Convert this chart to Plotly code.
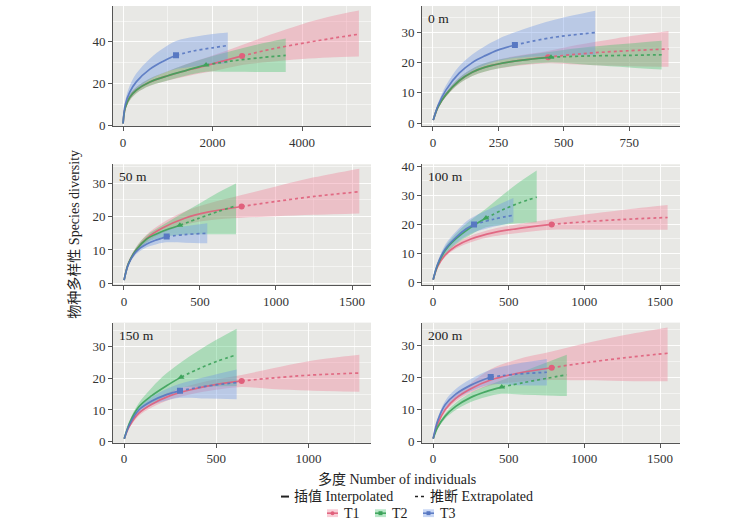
import plotly.graph_objects as go

# ---------------- data ----------------
PANEL_LABELS = ["", "0 m", "50 m", "100 m", "150 m", "200 m"]
SERIES = ["T1", "T2", "T3"]

# Panel 1 (all plots)
P1_T1_x = [1, 50, 150, 300, 600, 1000, 1500, 2000, 2660, 3300, 4000, 4600, 5270]
P1_T1_y = [1, 8.5, 13.5, 17, 20.8, 23.8, 26.8, 29.5, 33.3, 36.5, 39.3, 41.5, 43.7]
P1_T1_lo = [1, 7.5, 12, 15.5, 19, 21.5, 24, 26, 29, 30.5, 31.8, 32.5, 33]
P1_T1_hi = [1, 9.5, 15, 18.5, 22.5, 26, 30, 33.5, 38.5, 43.5, 48.5, 52, 55]
P1_T1_obs = 8
P1_T2_x = [1, 50, 150, 300, 600, 1000, 1400, 1855, 2400, 3000, 3635]
P1_T2_y = [1, 8.5, 13.5, 17, 20.8, 23.8, 26.3, 29, 30.8, 32.3, 33.6]
P1_T2_lo = [1, 7.5, 12, 15.5, 19, 21.5, 23.8, 25.7, 25.7, 25.6, 25.6]
P1_T2_hi = [1, 9.5, 15, 18.5, 22.5, 26, 29.2, 32.3, 35.5, 38.8, 41.7]
P1_T2_obs = 7
P1_T3_x = [1, 50, 150, 300, 600, 900, 1184, 1600, 2000, 2340]
P1_T3_y = [1, 10, 16, 21, 27, 30.8, 33.6, 35.8, 37.2, 38.3]
P1_T3_lo = [1, 8, 13, 17, 22, 25, 27, 28.3, 29.2, 29.8]
P1_T3_hi = [1, 12, 19, 25, 32, 37, 40.5, 42.5, 43.8, 44.5]
P1_T3_obs = 6

# Panel 2 (0 m)
P2_T1_x = [1, 20, 50, 100, 150, 200, 300, 440, 550, 700, 900]
P2_T1_y = [1, 5.5, 9.5, 14, 16.8, 18.5, 20.3, 21.8, 22.8, 23.7, 24.5]
P2_T1_lo = [1, 5, 8.8, 13, 15.6, 17.1, 18.7, 19.8, 19.4, 19, 18.6]
P2_T1_hi = [1, 6, 10.2, 15, 18, 19.9, 21.9, 23.8, 25.8, 28, 30.4]
P2_T1_obs = 7
P2_T2_x = [1, 20, 50, 100, 150, 200, 300, 451, 600, 750, 874]
P2_T2_y = [1, 5.5, 9.5, 14, 16.8, 18.5, 20.3, 21.8, 22.2, 22.4, 22.6]
P2_T2_lo = [1, 5, 8.8, 13, 15.6, 17.1, 18.8, 20, 19.2, 18.4, 17.7]
P2_T2_hi = [1, 6, 10.2, 15, 18, 19.9, 21.8, 23.6, 25.2, 26.3, 27.2]
P2_T2_obs = 7
P2_T3_x = [1, 20, 50, 100, 150, 200, 250, 313, 450, 620]
P2_T3_y = [1, 6, 11, 16.5, 20, 22.3, 24.2, 25.8, 28.2, 29.9]
P2_T3_lo = [1, 5.3, 9.5, 14.2, 17.3, 19.2, 20.6, 21.5, 22.2, 22.5]
P2_T3_hi = [1, 6.7, 12.5, 18.8, 22.7, 25.5, 27.8, 30, 33.8, 37.1]
P2_T3_obs = 7

# Panel 3 (50 m)
P3_T1_x = [1, 30, 80, 150, 250, 400, 550, 774, 1000, 1250, 1548]
P3_T1_y = [1, 6, 10, 13.5, 16.5, 19.5, 21.3, 23, 24.5, 26, 27.4]
P3_T1_lo = [1, 5.5, 9.2, 12.4, 15, 17.5, 18.8, 19.6, 20.1, 20.5, 20.9]
P3_T1_hi = [1, 6.5, 10.8, 14.6, 18, 21.5, 23.8, 26.4, 29, 31.7, 34.3]
P3_T1_obs = 7
P3_T2_x = [1, 30, 80, 150, 250, 368, 500, 620, 737]
P3_T2_y = [1, 6, 10, 13.3, 15.5, 17.4, 19.6, 21.5, 23.2]
P3_T2_lo = [1, 5.5, 9.2, 12.2, 13.8, 14.5, 14.7, 14.7, 14.7]
P3_T2_hi = [1, 6.5, 10.8, 14.4, 17.3, 20.5, 24, 27.2, 29.9]
P3_T2_obs = 5
P3_T3_x = [1, 30, 80, 150, 220, 281, 400, 548]
P3_T3_y = [1, 5.8, 9.5, 11.8, 13.1, 14.0, 14.6, 15.0]
P3_T3_lo = [1, 5.3, 8.7, 10.8, 11.8, 12.3, 12.2, 12.0]
P3_T3_hi = [1, 6.3, 10.3, 12.8, 14.8, 16.2, 17.1, 18.0]
P3_T3_obs = 5

# Panel 4 (100 m)
P4_T1_x = [1, 30, 80, 150, 250, 400, 550, 784, 1000, 1250, 1550]
P4_T1_y = [1, 5.5, 9.5, 12.5, 15, 17.2, 18.5, 20, 20.9, 21.7, 22.4]
P4_T1_lo = [1, 5, 8.8, 11.6, 13.9, 15.9, 17, 18.2, 18.2, 18.2, 18.2]
P4_T1_hi = [1, 6, 10.2, 13.4, 16.1, 18.5, 20, 21.8, 23.4, 25, 26.7]
P4_T1_obs = 7
P4_T2_x = [1, 30, 80, 150, 250, 350, 450, 560, 685]
P4_T2_y = [1, 6, 11, 15, 19, 22.2, 24.8, 27.2, 29.4]
P4_T2_lo = [1, 5.3, 9.7, 13.2, 16.5, 19, 19.8, 20.4, 20.8]
P4_T2_hi = [1, 6.7, 12.3, 16.8, 21.5, 25.4, 29.7, 34.2, 38.6]
P4_T2_obs = 5
P4_T3_x = [1, 30, 80, 150, 220, 271, 400, 531]
P4_T3_y = [1, 6.3, 11.5, 15.5, 18.5, 20, 21.8, 23.2]
P4_T3_lo = [1, 5.5, 10, 13.5, 16, 17.3, 19.2, 20.8]
P4_T3_hi = [1, 7.1, 13, 17.5, 21, 22.7, 26, 29.1]
P4_T3_obs = 5

# Panel 5 (150 m)
P5_T1_x = [1, 30, 80, 150, 250, 350, 480, 637, 800, 1000, 1275]
P5_T1_y = [1, 5, 9, 11.8, 14.5, 16.2, 17.8, 19.1, 20, 20.9, 21.6]
P5_T1_lo = [1, 4.5, 8.2, 10.8, 13.3, 14.8, 16.2, 17.2, 16.6, 16.1, 15.7]
P5_T1_hi = [1, 5.5, 9.8, 12.8, 15.7, 17.6, 19.4, 21, 23, 25.3, 27.3]
P5_T1_obs = 7
P5_T2_x = [1, 30, 80, 150, 230, 309, 400, 500, 610]
P5_T2_y = [1, 6, 11, 14.5, 17.6, 20.3, 22.8, 25.2, 27.3]
P5_T2_lo = [1, 5.3, 9.8, 12.3, 14.5, 17, 17.3, 17.4, 17.5]
P5_T2_hi = [1, 6.7, 12.2, 17, 21.5, 25, 28.5, 32, 35.5]
P5_T2_obs = 5
P5_T3_x = [1, 30, 80, 150, 230, 303, 450, 610]
P5_T3_y = [1, 5.5, 10, 12.8, 14.8, 16, 17.5, 18.6]
P5_T3_lo = [1, 5, 9, 11.5, 13, 13.8, 13.6, 13.4]
P5_T3_hi = [1, 6, 11, 14.1, 16.6, 18.2, 20.5, 22.7]
P5_T3_obs = 5

# Panel 6 (200 m)
P6_T1_x = [1, 30, 80, 150, 250, 380, 550, 784, 1000, 1250, 1550]
P6_T1_y = [1, 5.5, 10, 13.5, 16.5, 19.2, 21.2, 23, 24.5, 26, 27.5]
P6_T1_lo = [1, 5, 9.2, 12.5, 15.2, 17.5, 18.6, 19.2, 19.1, 18.9, 18.8]
P6_T1_hi = [1, 6, 10.8, 14.5, 18.2, 22.5, 25.5, 28, 30.5, 33, 35.5]
P6_T1_obs = 7
P6_T2_x = [1, 30, 80, 150, 250, 350, 454, 600, 750, 884]
P6_T2_y = [1, 4.5, 8, 11, 13.8, 15.6, 17, 18.4, 19.7, 20.8]
P6_T2_lo = [1, 4, 7.2, 9.9, 12.4, 13.9, 14.9, 14.6, 14.4, 14.2]
P6_T2_hi = [1, 5, 8.8, 12.1, 15.2, 17.3, 19.1, 21.9, 24.6, 27]
P6_T2_obs = 6
P6_T3_x = [1, 30, 80, 150, 250, 381, 550, 752]
P6_T3_y = [1, 6.5, 11.5, 14.8, 17.6, 20.1, 21, 21.6]
P6_T3_lo = [1, 5.8, 10.3, 13.2, 15.7, 17.8, 17.6, 17.5]
P6_T3_hi = [1, 7.2, 12.7, 16.4, 19.5, 22.4, 24.2, 25.7]
P6_T3_obs = 5

X_TICKS = [[0, 2000, 4000], [0, 250, 500, 750], [0, 500, 1000, 1500],
           [0, 500, 1000, 1500], [0, 500, 1000], [0, 500, 1000, 1500]]
Y_TICKS = [[0, 20, 40], [0, 10, 20, 30], [0, 10, 20, 30],
           [0, 10, 20, 30, 40], [0, 10, 20, 30], [0, 10, 20, 30]]

# ---------------- style ----------------
W, H = 750, 528
FONT = "Liberation Serif, Times New Roman, Noto Sans CJK SC, serif"
LINE_COL = {"T1": "#E0607C", "T2": "#3DA35B", "T3": "#5878C2"}
FILL_COL = {"T1": "rgba(240,125,150,0.38)", "T2": "rgba(70,195,110,0.38)",
            "T3": "rgba(110,150,230,0.38)"}
SYMBOL = {"T1": "circle", "T2": "triangle-up", "T3": "square"}
BG = "#E8E8E5"

X_RANGES = [[-224, 5540], [-42, 944], [-72, 1625], [-73, 1632], [-60, 1338], [-73, 1632]]
Y_RANGES = [[-0.3, 57.2], [-1, 38.7], [-0.6, 35.6], [-1, 40.7], [-0.3, 37.4], [-0.3, 37]]

COLS_PX = [(113, 371), (422, 680)]
ROWS_PX = [(1, 124), (163, 287), (325, 448)]

data = {}
g = globals()
for p in range(1, 7):
    for s in SERIES:
        key = f"P{p}_{s}"
        data[(p, s)] = (g[key + "_x"], g[key + "_y"], g[key + "_lo"], g[key + "_hi"], g[key + "_obs"])

fig = go.Figure()
layout = {}
for i in range(6):
    p = i + 1
    r, c = divmod(i, 2)
    xa = "x" if p == 1 else f"x{p}"
    ya = "y" if p == 1 else f"y{p}"
    x0, x1 = COLS_PX[c]
    y0, y1 = ROWS_PX[r]
    axcommon = dict(showline=True, linecolor="#555", linewidth=1, ticks="outside", ticklen=4,
                    tickcolor="#555", zeroline=False, showgrid=True, gridcolor="rgba(255,255,255,0.85)",
                    gridwidth=0.8, tickfont=dict(family=FONT, size=13, color="#333"),
                    minor=dict(showgrid=True, gridcolor="rgba(255,255,255,0.5)", gridwidth=0.5))
    xt = X_TICKS[i]
    yt = Y_TICKS[i]
    layout["xaxis" if p == 1 else f"xaxis{p}"] = dict(
        axcommon, domain=[x0 / W, x1 / W], range=X_RANGES[i], anchor=ya,
        tickvals=xt, minor=dict(axcommon["minor"], dtick=(xt[1] - xt[0]) / 2, tick0=0))
    layout["yaxis" if p == 1 else f"yaxis{p}"] = dict(
        axcommon, domain=[1 - y1 / H, 1 - y0 / H], range=Y_RANGES[i], anchor=xa,
        tickvals=yt, minor=dict(axcommon["minor"], dtick=(yt[1] - yt[0]) / 2, tick0=0))

    for s in SERIES:
        x, y, lo, hi, k = data[(p, s)]
        fig.add_trace(go.Scatter(x=x, y=lo, mode="lines", line=dict(width=0, shape="spline"),
                                 xaxis=xa, yaxis=ya, showlegend=False, hoverinfo="skip"))
        fig.add_trace(go.Scatter(x=x, y=hi, mode="lines", line=dict(width=0, shape="spline"),
                                 fill="tonexty", fillcolor=FILL_COL[s],
                                 xaxis=xa, yaxis=ya, showlegend=False, hoverinfo="skip"))
    for s in SERIES:
        x, y, lo, hi, k = data[(p, s)]
        fig.add_trace(go.Scatter(x=x[:k + 1], y=y[:k + 1], mode="lines",
                                 line=dict(color=LINE_COL[s], width=1.7, shape="spline"),
                                 opacity=0.9, xaxis=xa, yaxis=ya, showlegend=False))
        fig.add_trace(go.Scatter(x=x[k:], y=y[k:], mode="lines",
                                 line=dict(color=LINE_COL[s], width=1.7, dash="3px,3px", shape="spline"),
                                 opacity=0.9, xaxis=xa, yaxis=ya, showlegend=False))
        fig.add_trace(go.Scatter(x=[x[k]], y=[y[k]], mode="markers",
                                 marker=dict(color=LINE_COL[s], size=6, symbol=SYMBOL[s]),
                                 xaxis=xa, yaxis=ya, showlegend=False))

annotations = []
for i, lab in enumerate(PANEL_LABELS):
    if not lab:
        continue
    p = i + 1
    annotations.append(dict(text=lab, xref=("x" if p == 1 else f"x{p}") + " domain",
                            yref=("y" if p == 1 else f"y{p}") + " domain",
                            x=0.015, y=0.975, xanchor="left", yanchor="top", showarrow=False,
                            font=dict(family=FONT, size=13.5, color="#222")))

def px(xp):
    return xp / W

def py(yp):
    return 1 - yp / H

annotations.append(dict(text="多度 Number of individuals", xref="paper", yref="paper",
                        x=px(397), y=py(485), xanchor="center", yanchor="middle", showarrow=False,
                        font=dict(family=FONT, size=14, color="#222")))
annotations.append(dict(text="物种多样性 Species diversity", xref="paper", yref="paper",
                        x=px(74), y=py(235), xanchor="center", yanchor="middle", showarrow=False,
                        textangle=-90, font=dict(family=FONT, size=14, color="#222")))
annotations.append(dict(text="插值 Interpolated", xref="paper", yref="paper",
                        x=px(292), y=py(503), xanchor="left", yanchor="middle", showarrow=False,
                        font=dict(family=FONT, size=14, color="#222")))
annotations.append(dict(text="推断 Extrapolated", xref="paper", yref="paper",
                        x=px(428), y=py(503), xanchor="left", yanchor="middle", showarrow=False,
                        font=dict(family=FONT, size=14, color="#222")))

shapes = [
    dict(type="line", xref="paper", yref="paper", x0=px(281), x1=px(289), y0=py(503), y1=py(503),
         line=dict(color="#222", width=2)),
    dict(type="line", xref="paper", yref="paper", x0=px(415), x1=px(424), y0=py(503), y1=py(503),
         line=dict(color="#222", width=1.6, dash="dot")),
]
key_x = {"T1": 327, "T2": 375, "T3": 423}
for s in SERIES:
    kx = key_x[s]
    shapes.append(dict(type="rect", xref="paper", yref="paper", x0=px(kx), x1=px(kx + 11),
                       y0=py(524), y1=py(516), fillcolor=FILL_COL[s], line=dict(width=0)))
    shapes.append(dict(type="line", xref="paper", yref="paper", x0=px(kx), x1=px(kx + 11),
                       y0=py(520), y1=py(520), line=dict(color=LINE_COL[s], width=1.5)))
    shapes.append(dict(type="circle" if s == "T1" else "rect", xref="paper", yref="paper",
                       x0=px(kx + 3.5), x1=px(kx + 7.5), y0=py(522), y1=py(518),
                       fillcolor=LINE_COL[s], line=dict(width=0)))
    annotations.append(dict(text=s, xref="paper", yref="paper", x=px(kx + 15), y=py(520),
                            xanchor="left", yanchor="middle", showarrow=False,
                            font=dict(family=FONT, size=14, color="#222")))

fig.update_layout(width=W, height=H, margin=dict(l=0, r=0, t=0, b=0),
                  paper_bgcolor="white", plot_bgcolor=BG, showlegend=False,
                  annotations=annotations, shapes=shapes, **layout)

fig.write_html("out.html")
